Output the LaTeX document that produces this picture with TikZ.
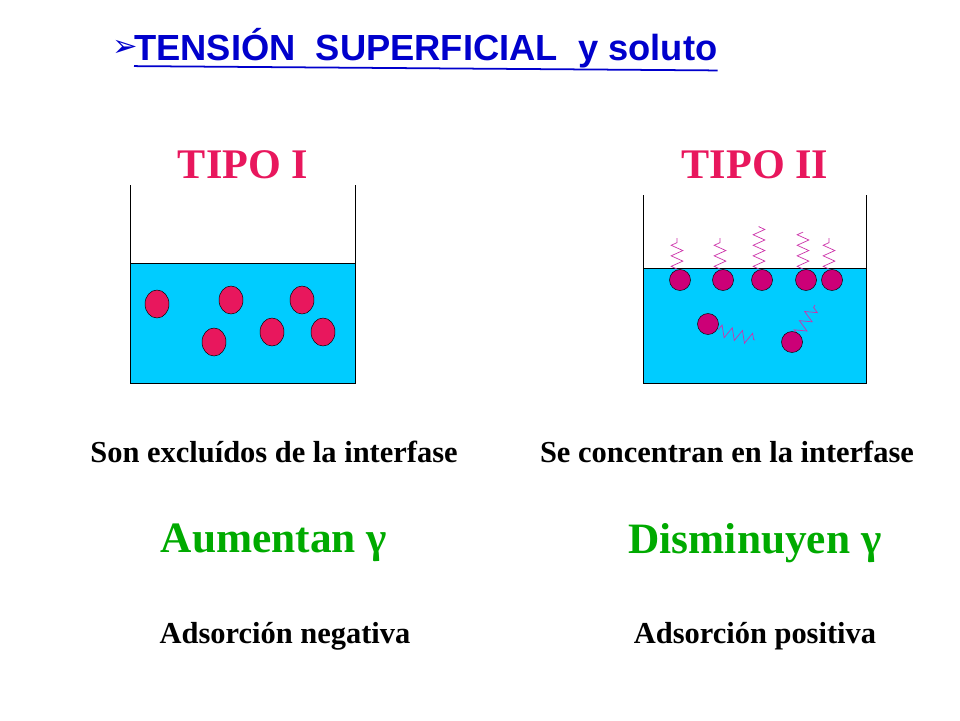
\documentclass[tikz,border=0pt]{standalone}
\usepackage{fontspec}
\setmainfont{Liberation Serif}
\newfontfamily\titlefont{Liberation Sans}
\newfontfamily\symfont{DejaVu Sans}
\usetikzlibrary{decorations.pathmorphing}
\definecolor{water}{HTML}{00CCFF}
\definecolor{beadone}{HTML}{E8175D}
\definecolor{beadtwo}{HTML}{CC0077}
\definecolor{tailcol}{HTML}{CC33AA}
\definecolor{titleblue}{HTML}{0000CC}
\definecolor{greentxt}{HTML}{00AA00}
\tikzset{
  bead/.style={draw=black, fill=beadone},
  beadII/.style={draw=black, fill=beadtwo},
  tail/.style={tailcol, semithick, decorate, decoration={zigzag, amplitude=5pt, segment length=9pt}},
  heading/.style={text=beadone, font=\bfseries\fontsize{36}{40}\selectfont},
  caption/.style={font=\bfseries\fontsize{26}{30}\selectfont},
  effect/.style={text=greentxt, font=\bfseries\fontsize{37}{42}\selectfont},
  sign/.style={font=\bfseries\fontsize{26}{30}\selectfont}
}
\begin{document}
\begin{tikzpicture}[x=0.03cm, y=-0.03cm]
\useasboundingbox (0,0) rectangle (960,720);

% title
\node[anchor=west, text=titleblue, inner sep=0pt] (arrow) at (112,48) {\symfont\fontsize{26}{28}\selectfont ➢};
\node[anchor=west, text=titleblue, inner sep=0pt, font=\titlefont\bfseries\fontsize{31}{36}\selectfont] (title) at (134,48) {TENSIÓN\ \ SUPERFICIAL\ \ y soluto};
\draw[titleblue, line width=1.5pt] (title.south west) ++(0,-2) -- ([yshift=-2pt]title.south east);

% tipo I
\node[heading] (tipoI) at (243,165) {TIPO I};
\fill[water] (130,263) rectangle (355,383);
\draw (130,185) -- (130,383) -- (355,383) -- (355,185);
\draw (130,263) -- (355,263);
\foreach \x/\y in {157/304, 231/300, 302/300, 214/342, 272/332, 323/332}
  \draw[bead] (\x,\y) ellipse (12 and 14);

% tipo II
\node[heading] (tipoII) at (755,165) {TIPO II};
\fill[water] (643,268) rectangle (866,383);
\draw (643,195) -- (643,383) -- (866,383) -- (866,195);
\draw (643,268) -- (866,268);
\foreach \x/\h in {680/238, 723/238, 762/226, 806/232, 832/238}
  \draw[tail] (\x-3,269) -- (\x-3,\h);
\draw[tail] (718,330) -- (755,340);
\draw[tail] (798,335) -- (815,305);
\foreach \x/\y in {680/280, 723/280, 762/280, 806/280, 832/280, 708/324, 792/342}
  \draw[beadII] (\x,\y) circle (10.5);

% texts
\node[caption] (exclI) at (274,452) {Son excluídos de la interfase};
\node[caption] (concII) at (727,452) {Se concentran en la interfase};
\node[effect] (aum) at (274,543) {Aumentan γ};
\node[effect] (dis) at (755,543) {Disminuyen γ};
\node[sign] (neg) at (285,636) {Adsorción negativa};
\node[sign] (pos) at (755,636) {Adsorción positiva};
\end{tikzpicture}
\end{document}
